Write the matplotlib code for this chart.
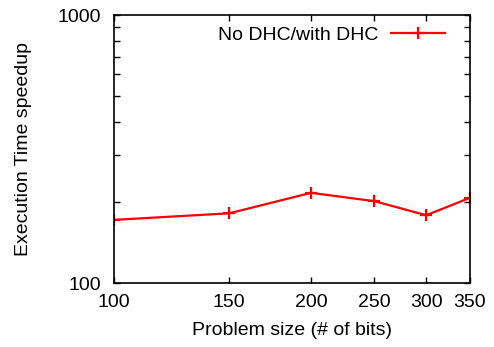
import matplotlib
matplotlib.use("Agg")
import matplotlib.pyplot as plt
from matplotlib.ticker import FixedLocator, NullFormatter, LogLocator

plt.rcParams['font.family'] = ['Liberation Sans', 'DejaVu Sans']

# Data
bits = [100, 150, 200, 250, 300, 350]
speedup = [172, 182, 217, 202, 179, 208]

fig = plt.figure(figsize=(4.94, 3.47), dpi=100)
ax = fig.add_axes([114 / 494, 1 - 283 / 347, (470 - 114) / 494, (283 - 15) / 347])

ax.plot(bits, speedup, color='red', linewidth=1.6, marker='+',
        markersize=9, markeredgewidth=1.6, label='No DHC/with DHC')

ax.set_xscale('log')
ax.set_yscale('log')
ax.set_xlim(100, 350)
ax.set_ylim(100, 1000)

ax.xaxis.set_major_locator(FixedLocator(bits))
ax.xaxis.set_minor_locator(FixedLocator([]))
ax.set_xticklabels([str(b) for b in bits])
ax.xaxis.set_minor_formatter(NullFormatter())

ax.yaxis.set_major_locator(FixedLocator([100, 1000]))
ax.yaxis.set_minor_locator(LogLocator(base=10, subs=range(2, 10)))
ax.yaxis.set_minor_formatter(NullFormatter())
ax.set_yticklabels(['100', '1000'])

ax.tick_params(which='both', direction='in', top=True, right=True,
               length=4, width=1, labelsize=14)
ax.tick_params(axis='y', pad=9.5)
ax.tick_params(axis='x', pad=8)

for s in ax.spines.values():
    s.set_linewidth(1.2)

ax.set_xlabel('Problem size (# of bits)', fontsize=14, labelpad=8)
ax.set_ylabel('Execution Time speedup', fontsize=14, labelpad=18)

leg = ax.legend(loc='upper right', bbox_to_anchor=(0.952, 0.988),
                frameon=False, fontsize=14, markerfirst=False,
                handlelength=2.8, borderaxespad=0, handletextpad=0.65)

fig.savefig('out.png', dpi=100)
